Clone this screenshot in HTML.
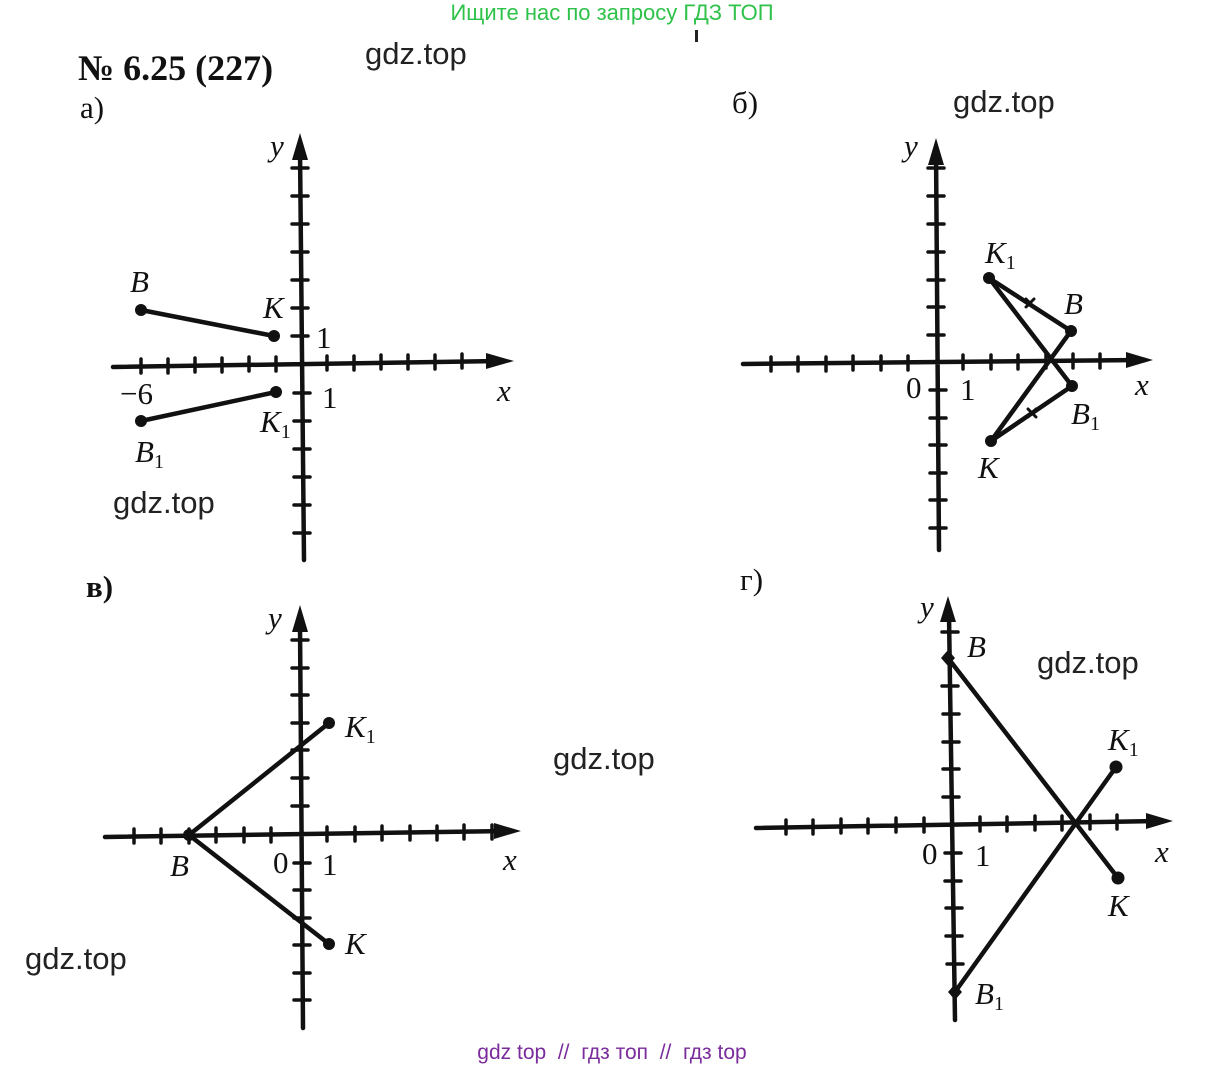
<!DOCTYPE html>
<html><head><meta charset="utf-8"><style>
html,body{margin:0;padding:0;background:#fff;}
svg{display:block}
.s{font-family:"Liberation Serif",serif;font-style:italic;font-size:31px;fill:#111}
.n{font-family:"Liberation Serif",serif;font-size:31px;fill:#111}
.w{font-family:"Liberation Sans",sans-serif;font-size:31px;fill:#222}
</style></head><body>
<svg width="1227" height="1069" viewBox="0 0 1227 1069" xmlns="http://www.w3.org/2000/svg">
<g stroke="#111" stroke-width="4.5" fill="none" stroke-linecap="round">
<!-- a -->
<path d="M113 367 L500 361 M300 150 L304 560"/>
<path stroke-width="3.5" d="M141 359v14M168 359v14M195 358v14M222 358v14M249 357v14M276 357v14M327 356v14M354 356v14M381 355v14M408 355v14M435 355v14M462 354v14
M292 168h16M292 196h16M292 224h16M292 252h16M292 280h16M292 308h16M292 336h16M294 393h16M294 421h16M294 449h16M294 477h16M294 505h16M294 533h16"/>
<path d="M141 310 L274 336 M141 421 L276 392"/>
<!-- б -->
<path d="M743 364 L1140 360 M936 150 L939 550"/>
<path stroke-width="3.5" d="M771 357v14M798 357v14M826 357v14M853 356v14M881 356v14M908 356v14M963 355v14M991 355v14M1018 355v14M1046 354v14M1073 354v14M1100 354v14
M928 168h16M928 196h16M928 224h16M928 252h16M928 280h16M928 307h16M928 335h16M930 390h16M930 418h16M930 445h16M930 473h16M930 500h16M930 528h16"/>
<path d="M989 278 L1071 331 L991 441 L1072 386 L989 278"/>
<path stroke-width="3" d="M1026 307l8-8M1026 299l8 8M1028 417l8-8M1028 409l8 8"/>
<!-- в -->
<path d="M105 837 L508 831 M300 625 L303 1028"/>
<path stroke-width="3.5" d="M134 829v14M161 829v14M189 829v14M216 828v14M244 828v14M271 828v14M327 827v14M355 827v14M382 826v14M410 826v14M437 826v14M464 825v14M492 825v14
M292 640h16M292 668h16M292 695h16M292 723h16M292 750h16M292 778h16M292 806h16M294 863h16M294 890h16M294 918h16M294 945h16M294 973h16M294 1000h16"/>
<path d="M189 835 L329 723 M189 835 L329 944"/>
<!-- г -->
<path d="M756 828 L1160 821 M949 615 L955 1020"/>
<path stroke-width="3.5" d="M786 820v14M813 820v14M841 819v14M868 819v14M896 818v14M924 818v14M980 817v14M1007 817v14M1035 816v14M1062 816v14M1090 815v14M1117 815v14
M942 632h16M942 686h16M943 714h16M943 742h16M943 769h16M943 797h16M945 853h16M945 881h16M946 908h16M946 936h16M947 964h16"/>
<path d="M948 658 L1118 878 M955 992 L1116 767"/>
</g>
<g fill="#111">
<path d="M514 361 L486 353 L486 369Z M300 133 L292 160 L308 160Z"/>
<path d="M1153 360 L1126 352 L1126 368Z M936 138 L928 165 L944 165Z"/>
<path d="M521 831 L494 823 L494 839Z M300 605 L292 632 L308 632Z"/>
<path d="M1173 821 L1146 813 L1146 829Z M948 596 L940 622 L956 622Z"/>
<circle cx="141" cy="310" r="6"/><circle cx="274" cy="336" r="6"/><circle cx="141" cy="421" r="6"/><circle cx="276" cy="392" r="6"/>
<circle cx="989" cy="278" r="6"/><circle cx="1071" cy="331" r="6"/><circle cx="1072" cy="386" r="6"/><circle cx="991" cy="441" r="6"/>
<circle cx="189" cy="835" r="6"/><circle cx="329" cy="723" r="6"/><circle cx="329" cy="944" r="6"/>
<path d="M948 650l7 8-7 8-7-8Z M955 984l7 8-7 8-7-8Z"/>
<circle cx="1116" cy="767" r="6.5"/><circle cx="1118" cy="878" r="6.5"/>
</g>
<text x="612" y="20" text-anchor="middle" font-family="Liberation Sans,sans-serif" font-size="22" fill="#2fc24a">Ищите нас по запросу ГДЗ ТОП</text>
<rect x="695" y="30" width="3" height="12" fill="#222"/>
<text x="612" y="1059" text-anchor="middle" font-family="Liberation Sans,sans-serif" font-size="21" fill="#7b2c9c" xml:space="preserve">gdz top  //  гдз топ  //  гдз top</text>
<text x="78" y="80" font-family="Liberation Serif,serif" font-weight="bold" font-size="36" fill="#111">№ 6.25 (227)</text>
<text x="80" y="118" class="n">а)</text>
<text x="732" y="113" class="n">б)</text>
<text x="86" y="597" class="n" font-weight="bold">в)</text>
<text x="740" y="590" class="n">г)</text>
<text x="365" y="64" class="w">gdz.top</text>
<text x="953" y="112" class="w">gdz.top</text>
<text x="113" y="513" class="w">gdz.top</text>
<text x="553" y="769" class="w">gdz.top</text>
<text x="25" y="969" class="w">gdz.top</text>
<text x="1037" y="673" class="w">gdz.top</text>
<!-- a labels -->
<text x="270" y="156" class="s">y</text>
<text x="497" y="401" class="s">x</text>
<text x="130" y="292" class="s">B</text>
<text x="263" y="318" class="s">K</text>
<text x="316" y="348" class="n">1</text>
<text x="322" y="408" class="n">1</text>
<text x="120" y="404" class="n">−6</text>
<text x="135" y="462" class="s">B<tspan font-size="20" font-style="normal" dy="6">1</tspan></text>
<text x="260" y="432" class="s">K<tspan font-size="20" font-style="normal" dy="6">1</tspan></text>
<!-- б labels -->
<text x="904" y="156" class="s">y</text>
<text x="1135" y="395" class="s">x</text>
<text x="985" y="263" class="s">K<tspan font-size="20" font-style="normal" dy="6">1</tspan></text>
<text x="1064" y="314" class="s">B</text>
<text x="1071" y="424" class="s">B<tspan font-size="20" font-style="normal" dy="6">1</tspan></text>
<text x="978" y="478" class="s">K</text>
<text x="906" y="398" class="n">0</text>
<text x="960" y="400" class="n">1</text>
<!-- в labels -->
<text x="268" y="628" class="s">y</text>
<text x="503" y="870" class="s">x</text>
<text x="345" y="737" class="s">K<tspan font-size="20" font-style="normal" dy="6">1</tspan></text>
<text x="345" y="954" class="s">K</text>
<text x="170" y="876" class="s">B</text>
<text x="273" y="873" class="n">0</text>
<text x="322" y="875" class="n">1</text>
<!-- г labels -->
<text x="920" y="617" class="s">y</text>
<text x="1155" y="862" class="s">x</text>
<text x="967" y="657" class="s">B</text>
<text x="1108" y="750" class="s">K<tspan font-size="20" font-style="normal" dy="6">1</tspan></text>
<text x="1108" y="916" class="s">K</text>
<text x="975" y="1004" class="s">B<tspan font-size="20" font-style="normal" dy="6">1</tspan></text>
<text x="922" y="864" class="n">0</text>
<text x="975" y="866" class="n">1</text>
</svg>
</body></html>
